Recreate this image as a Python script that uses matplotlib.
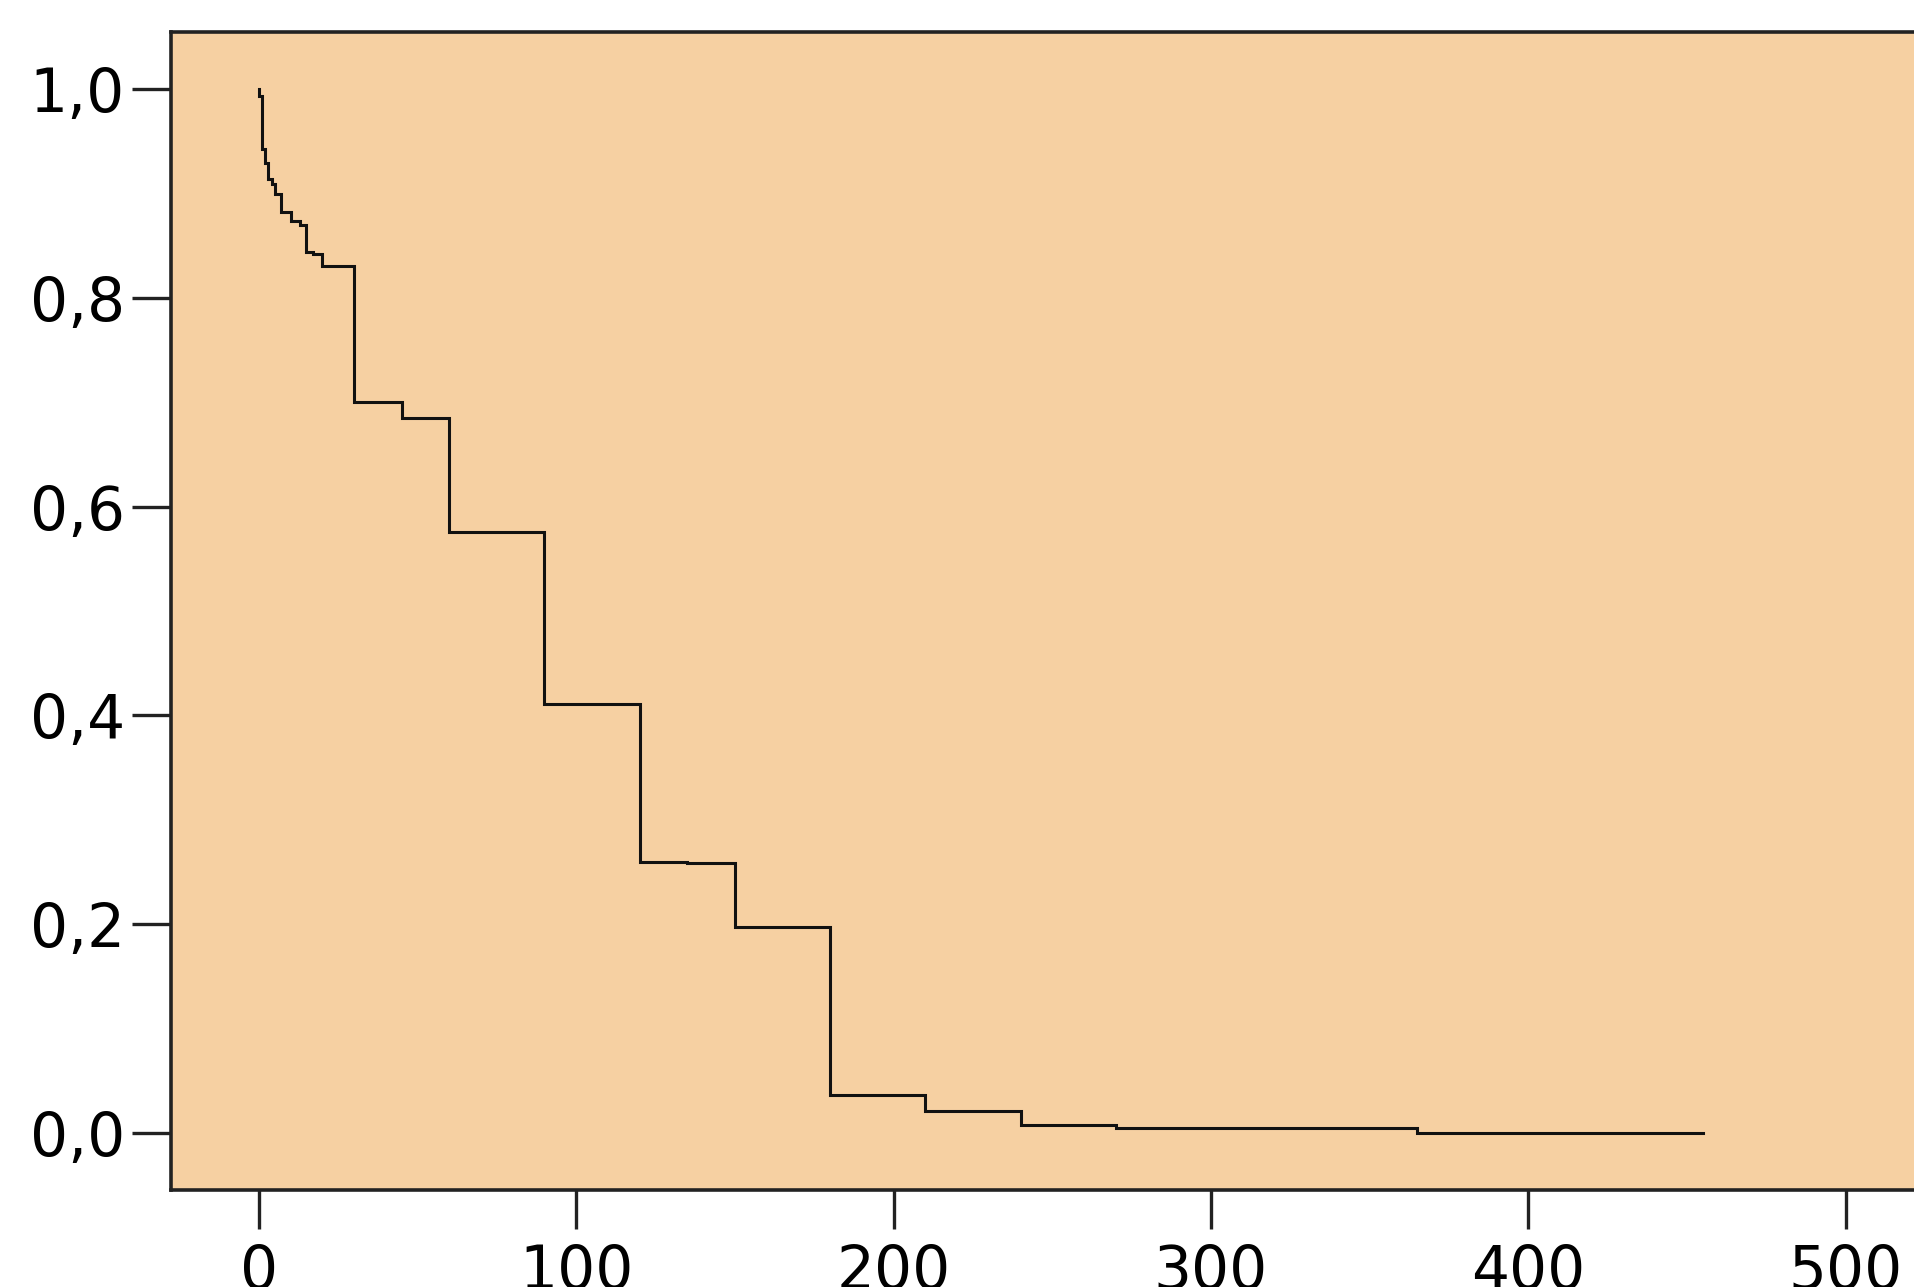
import matplotlib
matplotlib.use("Agg")
import matplotlib.pyplot as plt

# Kaplan-Meier style survival steps
event_times = [0, 1, 2, 3, 4, 5, 7, 10, 13, 15, 17, 20, 30, 45, 60, 90, 120, 135, 150, 180, 210, 240, 270, 365]
survival = [0.993, 0.943, 0.929, 0.914, 0.909, 0.900, 0.882, 0.874, 0.870, 0.844, 0.842, 0.831,
            0.700, 0.685, 0.576, 0.411, 0.259, 0.258, 0.197, 0.036, 0.021, 0.007, 0.004, 0.0]
start_value = 1.0
end_time = 455

x_ticks = [0, 100, 200, 300, 400, 500]
x_tick_labels = ["0", "100", "200", "300", "400", "500"]
y_ticks = [0.0, 0.2, 0.4, 0.6, 0.8, 1.0]
y_tick_labels = ["0,0", "0,2", "0,4", "0,6", "0,8", "1,0"]

plt.rcParams['font.family'] = ['DejaVu Sans']

fig = plt.figure(figsize=(19.14, 12.87), dpi=100)
fig.patch.set_facecolor("white")
ax = fig.add_axes([0.0893, 0.0754, 0.9414, 0.8999])
ax.set_facecolor("#F6D0A2")

xs = [0] + event_times + [end_time]
ys = [start_value] + survival + [survival[-1]]
ax.step(xs, ys, where="post", color="#111111", linewidth=2.2, solid_joinstyle="miter")

ax.set_xlim(-27.7, 540)
ax.set_ylim(-0.055, 1.055)

ax.set_xticks(x_ticks)
ax.set_xticklabels(x_tick_labels)
ax.set_yticks(y_ticks)
ax.set_yticklabels(y_tick_labels)

ax.tick_params(axis="both", direction="out", length=28, width=2.4, color="#222222",
               labelsize=43, labelcolor="black")
ax.tick_params(axis="y", pad=5)
ax.tick_params(axis="x", pad=10)

for side in ["left", "bottom", "top", "right"]:
    ax.spines[side].set_color("#222222")
    ax.spines[side].set_linewidth(2.6)

fig.savefig("out.png", dpi=100, facecolor="white")
